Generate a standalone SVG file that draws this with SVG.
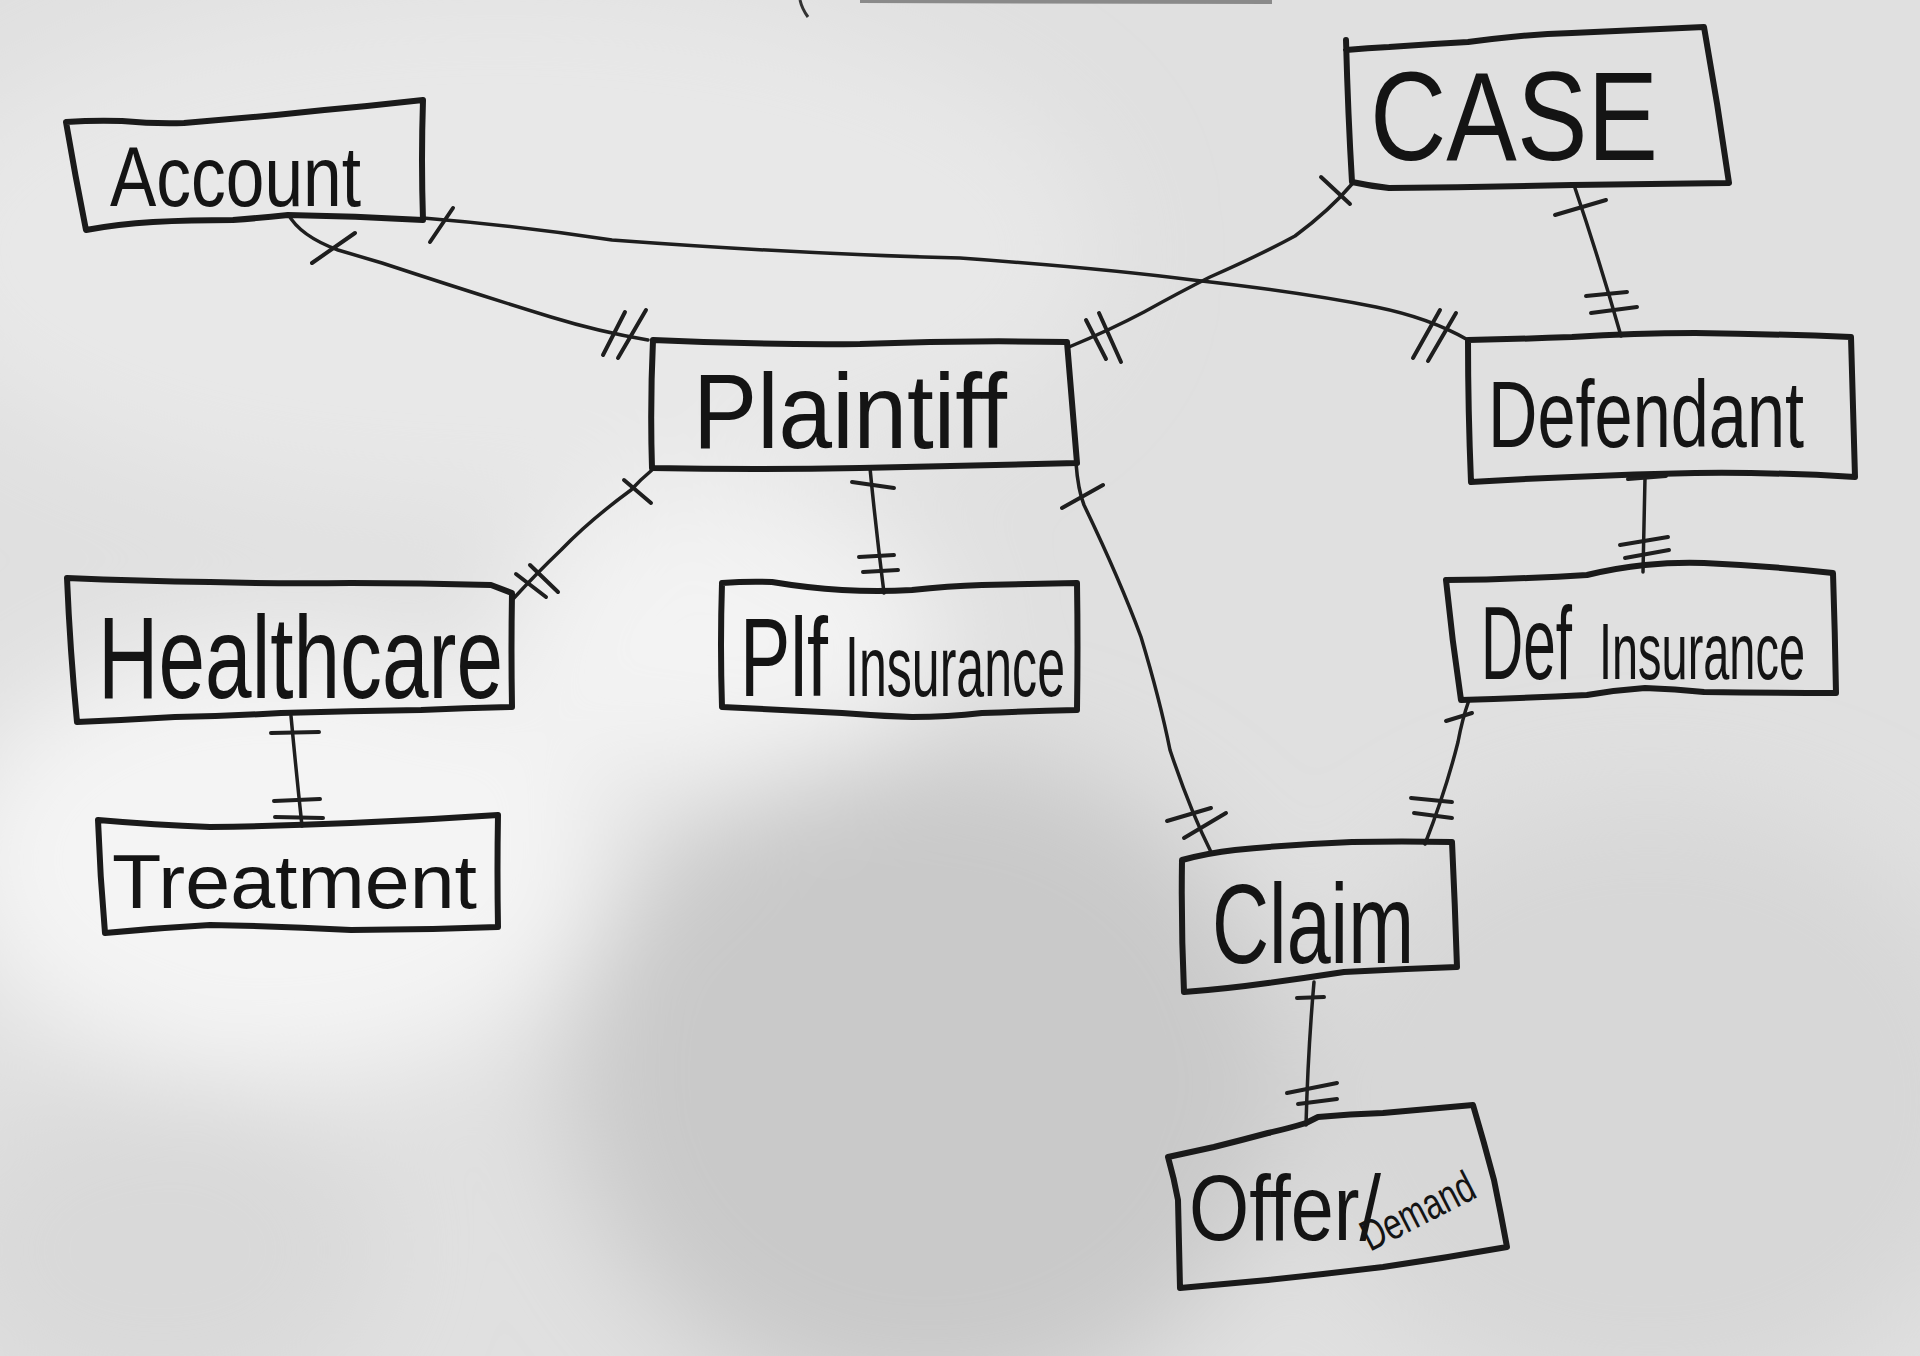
<svg xmlns="http://www.w3.org/2000/svg" width="1920" height="1356" viewBox="0 0 1920 1356">
<defs>
<filter id="blur" x="-50%" y="-50%" width="200%" height="200%"><feGaussianBlur stdDeviation="55"/></filter>
<style>
.box{fill:none;stroke:#1a1a1a;stroke-width:6;stroke-linejoin:round;stroke-linecap:round}
.con{fill:none;stroke:#1e1e1e;stroke-width:3.5;stroke-linecap:round;stroke-linejoin:round}
.tick{fill:none;stroke:#1e1e1e;stroke-width:4;stroke-linecap:round}
.lbl{font-family:"Liberation Sans Narrow","Liberation Sans",Arial,sans-serif;fill:#141414}
</style>
</defs>
<rect x="0" y="0" width="1920" height="1356" fill="#e0e0e0"/>
<g filter="url(#blur)">
<ellipse cx="500" cy="250" rx="600" ry="260" fill="#e8e8e8"/>
<ellipse cx="280" cy="860" rx="330" ry="220" fill="#f4f4f4"/>
<ellipse cx="720" cy="640" rx="220" ry="150" fill="#f3f3f3"/>
<ellipse cx="930" cy="1080" rx="360" ry="330" fill="#c9c9c9"/>
<ellipse cx="160" cy="1250" rx="220" ry="160" fill="#d9d9d9"/>
<ellipse cx="1650" cy="1100" rx="350" ry="300" fill="#d7d7d7"/>
</g>
<path d="M860,1 L1272,2" stroke="#8a8a8a" stroke-width="4" fill="none"/>
<path d="M800,0 Q802,9 808,17" stroke="#333" stroke-width="3" fill="none"/>

<g id="connectors">
<!-- Account - Plaintiff -->
<path class="con" d="M288,214 Q300,236 338,250 L382,263 Q470,292 551,317 Q600,332 648,340"/>
<path class="tick" d="M312,263 L355,233"/>
<path class="tick" d="M603,355 L625,312 M618,358 L646,310"/>
<!-- Account - Defendant -->
<path class="con" d="M423,218 Q520,226 612,240 Q800,254 960,258 Q1100,268 1193,280 Q1300,292 1376,307 Q1430,318 1468,340"/>
<path class="tick" d="M430,242 L453,208"/>
<path class="tick" d="M1413,358 L1440,310 M1428,361 L1456,313"/>
<!-- Plaintiff - CASE -->
<path class="con" d="M1069,347 Q1110,330 1144,312 Q1180,292 1210,277 Q1260,255 1295,236 Q1330,210 1352,184"/>
<path class="tick" d="M1086,320 L1106,359 M1099,313 L1121,362"/>
<path class="tick" d="M1321,177 L1350,204"/>
<!-- CASE - Defendant -->
<path class="con" d="M1575,188 Q1600,262 1621,336"/>
<path class="tick" d="M1555,215 L1606,200"/>
<path class="tick" d="M1586,296 L1627,292 M1591,313 L1637,307"/>
<!-- Plaintiff - Healthcare -->
<path class="con" d="M652,470 Q640,480 631,490 Q590,520 561,550 Q535,575 514,598"/>
<path class="tick" d="M624,480 L651,503"/>
<path class="tick" d="M516,574 L546,597 M530,565 L558,592"/>
<!-- Healthcare - Treatment -->
<path class="con" d="M291,716 Q296,770 302,826"/>
<path class="tick" d="M271,733 L319,732"/>
<path class="tick" d="M274,801 L320,799 M275,817 L323,818"/>
<!-- Plaintiff - Plf Insurance -->
<path class="con" d="M870,468 Q876,530 884,593"/>
<path class="tick" d="M852,482 L894,488"/>
<path class="tick" d="M859,557 L894,555 M863,572 L898,570"/>
<!-- Plaintiff - Claim -->
<path class="con" d="M1076,463 Q1078,490 1084,505 Q1120,580 1141,637 Q1160,700 1170,750 Q1190,810 1211,852"/>
<path class="tick" d="M1062,508 L1103,485"/>
<path class="tick" d="M1167,821 L1211,808 M1184,838 L1226,813"/>
<!-- Defendant - Def Insurance -->
<path class="con" d="M1645,478 L1643,572"/>
<path class="tick" d="M1628,479 L1666,476"/>
<path class="tick" d="M1620,545 L1668,537 M1625,558 L1669,550"/>
<!-- Def Insurance - Claim -->
<path class="con" d="M1469,700 Q1462,720 1458,742 Q1446,790 1425,844"/>
<path class="tick" d="M1446,721 L1472,713"/>
<path class="tick" d="M1411,798 L1452,802 M1414,813 L1452,818"/>
<!-- Claim - Offer/Demand -->
<path class="con" d="M1314,982 Q1308,1050 1306,1125"/>
<path class="tick" d="M1297,998 L1324,997"/>
<path class="tick" d="M1287,1093 L1337,1083 M1298,1104 L1337,1099"/>
</g>

<g id="node-account">
<path class="box" d="M66,122 Q95,120 122,121 Q155,124 184,123 Q230,119 276,115 Q322,110 367,106 L423,100 Q421,160 423,220 Q355,216 288,215 Q260,218 233,220 Q190,220 153,222 Q118,224 86,230 Q75,175 66,122 Z"/>
<text class="lbl" x="110" y="206" font-size="86" textLength="251" lengthAdjust="spacingAndGlyphs">Account</text>
</g>

<g id="node-case">
<path class="box" d="M1346,50 Q1368,48 1389,47 Q1430,44 1468,42 Q1490,39 1511,37 Q1540,34 1572,33 Q1640,30 1704,27 Q1718,105 1729,183 Q1650,184 1572,185 Q1480,187 1389,188 Q1370,186 1352,182 Q1348,115 1346,40"/>
<text class="lbl" x="1370" y="160" font-size="126" textLength="288" lengthAdjust="spacingAndGlyphs">CASE</text>
</g>

<g id="node-plaintiff">
<path class="box" d="M653,340 Q760,345 860,344 Q965,340 1067,342 Q1072,402 1077,463 Q970,466 860,468 Q755,470 652,468 Q650,405 653,340 Z"/>
<text class="lbl" x="693" y="448" font-size="106" textLength="314" lengthAdjust="spacingAndGlyphs">Plaintiff</text>
</g>

<g id="node-defendant">
<path class="box" d="M1468,340 Q1520,339 1572,337 Q1635,333 1695,333 Q1775,334 1851,337 Q1853,408 1855,477 Q1775,472 1695,473 Q1635,474 1572,477 Q1520,479 1471,482 Q1468,410 1468,340 Z"/>
<text class="lbl" x="1488" y="447" font-size="64" textLength="316" lengthAdjust="spacingAndGlyphs" transform="matrix(1,0,0,1.48,0,-214.56)">Defendant</text>
</g>

<g id="node-healthcare">
<path class="box" d="M67,578 Q140,581 210,582 Q280,584 351,583 Q420,583 491,585 L512,593 Q511,650 512,707 Q465,708 421,710 Q350,711 281,713 Q228,716 175,717 Q125,720 77,722 Q70,650 67,578 Z"/>
<text class="lbl" x="98" y="698" font-size="116" textLength="405" lengthAdjust="spacingAndGlyphs">Healthcare</text>
</g>

<g id="node-plf-insurance">
<path class="box" d="M722,583 Q748,581 772,582 Q808,588 842,590 Q878,592 912,590 Q948,586 982,585 Q1030,584 1077,583 Q1078,646 1077,710 Q1030,711 982,713 Q948,717 912,717 Q878,716 842,713 Q782,710 722,707 Q720,645 722,583 Z"/>
<text class="lbl" x="740" y="696" font-size="60" textLength="88" lengthAdjust="spacingAndGlyphs" transform="matrix(1,0,0,1.87,0,-605.52)">Plf</text>
<text class="lbl" x="845" y="696" font-size="44" textLength="220" lengthAdjust="spacingAndGlyphs" transform="matrix(1,0,0,1.95,0,-661.2)">Insurance</text>
</g>

<g id="node-treatment">
<path class="box" d="M98,820 Q155,825 210,827 Q280,826 351,823 Q425,820 498,815 Q497,870 498,927 Q425,930 351,930 Q280,926 210,925 Q157,928 105,933 Q100,876 98,820 Z"/>
<text class="lbl" x="112" y="908" font-size="76" textLength="365" lengthAdjust="spacingAndGlyphs">Treatment</text>
</g>

<g id="node-def-insurance">
<path class="box" d="M1446,580 Q1488,580 1528,578 Q1558,577 1587,575 Q1616,568 1645,565 Q1675,562 1704,563 Q1770,566 1833,573 Q1835,633 1836,693 Q1770,693 1704,692 Q1675,689 1645,688 Q1616,690 1587,695 Q1525,698 1461,700 Q1452,640 1446,580 Z"/>
<text class="lbl" x="1481" y="679" font-size="68" textLength="91" lengthAdjust="spacingAndGlyphs" transform="matrix(1,0,0,1.53,0,-359.87)">Def</text>
<text class="lbl" x="1599" y="679" font-size="42" textLength="206" lengthAdjust="spacingAndGlyphs" transform="matrix(1,0,0,1.9,0,-611.1)">Insurance</text>
</g>

<g id="node-claim">
<path class="box" d="M1182,860 Q1208,853 1235,850 Q1295,844 1352,842 Q1402,841 1452,842 Q1455,905 1457,967 Q1400,969 1344,972 Q1305,978 1268,983 Q1225,989 1184,992 Q1181,926 1182,860 Z"/>
<text class="lbl" x="1212" y="963" font-size="114" textLength="202" lengthAdjust="spacingAndGlyphs">Claim</text>
</g>

<g id="node-offer-demand">
<path class="box" d="M1168,1157 Q1191,1152 1214,1147 Q1242,1140 1268,1133 Q1290,1128 1306,1123 L1318,1117 Q1350,1114 1383,1113 Q1428,1109 1473,1105 Q1484,1142 1494,1180 Q1501,1214 1507,1247 Q1445,1258 1383,1267 Q1325,1274 1268,1280 Q1224,1284 1180,1288 Q1179,1244 1178,1200 Q1174,1178 1168,1157 Z"/>
<text class="lbl" x="1189" y="1240" font-size="92" textLength="192" lengthAdjust="spacingAndGlyphs">Offer/</text>
<text class="lbl" x="0" y="0" font-size="44" textLength="122" lengthAdjust="spacingAndGlyphs" transform="translate(1370,1252) rotate(-27)">Demand</text>
</g>
</svg>
